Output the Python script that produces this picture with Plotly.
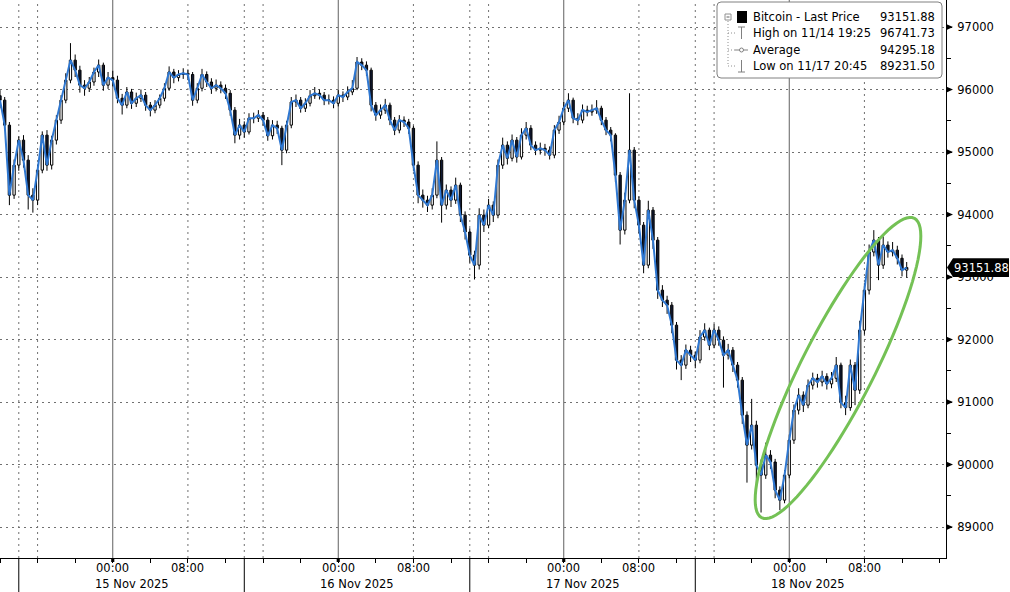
import plotly.graph_objects as go
import pandas as pd
import numpy as np

# 30-minute bars, Bitcoin last price
times = pd.date_range("2025-11-14 12:00", periods=194, freq="30min")

open_ = [
    95900, 95830, 95430, 94310, 94790, 95190, 94870, 94310, 94230, 94710,
    95270, 94790, 95190, 95510, 95830, 96150, 96470, 96310, 96070, 96020,
    96120, 96280, 96390, 96070, 96190, 96150, 95860, 95750, 95960, 95780,
    95860, 95910, 95750, 95670, 95750, 95860, 96020, 96280, 96190, 96240,
    96260, 96240, 95830, 96020, 96240, 96120, 96020, 96070, 96020, 95940,
    95670, 95270, 95430, 95320, 95540, 95540, 95590, 95510, 95260, 95430,
    95380, 95030, 95430, 95800, 95830, 95700, 95780, 95900, 95940, 95910,
    95830, 95830, 95780, 95910, 95880, 95960, 96020, 96440, 96390, 96310,
    95750, 95590, 95670, 95750, 95510, 95350, 95510, 95480, 95380, 94790,
    94310, 94230, 94150, 94310, 94870, 94150, 94390, 94230, 94470, 93990,
    93720, 93350, 93190, 93990, 93830, 94150, 93990, 94790, 95110, 94900,
    95190, 94920, 95270, 95380, 95110, 95030, 95060, 95030, 94950, 95350,
    95480, 95700, 95830, 95540, 95510, 95670, 95640, 95670, 95700, 95510,
    95350, 95270, 94630, 93750, 94230, 95030, 94230, 93830, 93190, 94070,
    93590, 92790, 92630, 92550, 92230, 91670, 91590, 91830, 91750, 91670,
    92040, 92150, 91910, 92150, 91990, 91750, 91830, 91590, 91350, 90790,
    90310, 90630, 89990, 89830, 90150, 90040, 89590, 89430, 89830, 90390,
    90870, 91110, 90950, 91270, 91380, 91320, 91410, 91290, 91380, 91590,
    90990, 90910, 91590, 91190, 92150, 92790, 93400, 93590, 93190, 93510,
    93400, 93430, 93300, 93110,
]

close = [
    95830, 95430, 94310, 94790, 95190, 94870, 94310, 94230, 94710, 95270,
    94790, 95190, 95510, 95830, 96150, 96470, 96310, 96070, 96020, 96120,
    96280, 96390, 96070, 96190, 96150, 95860, 95750, 95960, 95780, 95860,
    95910, 95750, 95670, 95750, 95860, 96020, 96280, 96190, 96240, 96260,
    96240, 95830, 96020, 96240, 96120, 96020, 96070, 96020, 95940, 95670,
    95270, 95430, 95320, 95540, 95540, 95590, 95510, 95260, 95430, 95380,
    95030, 95430, 95800, 95830, 95700, 95780, 95900, 95940, 95910, 95830,
    95830, 95780, 95910, 95880, 95960, 96020, 96440, 96390, 96310, 95750,
    95590, 95670, 95750, 95510, 95350, 95510, 95480, 95380, 94790, 94310,
    94230, 94150, 94310, 94870, 94150, 94390, 94230, 94470, 93990, 93720,
    93350, 93190, 93990, 93830, 94150, 93990, 94790, 95110, 94900, 95190,
    94920, 95270, 95380, 95110, 95030, 95060, 95030, 94950, 95350, 95480,
    95700, 95830, 95540, 95510, 95670, 95640, 95670, 95700, 95510, 95350,
    95270, 94630, 93750, 94230, 95030, 94230, 93830, 93190, 94070, 93590,
    92790, 92630, 92550, 92230, 91670, 91590, 91830, 91750, 91670, 92040,
    92150, 91910, 92150, 91990, 91750, 91830, 91590, 91350, 90790, 90310,
    90630, 89990, 89830, 90150, 90040, 89590, 89430, 89830, 90390, 90870,
    91110, 90950, 91270, 91380, 91320, 91410, 91290, 91380, 91590, 90990,
    90910, 91590, 91190, 92150, 92790, 93400, 93590, 93190, 93510, 93400,
    93430, 93300, 93110, 93151.88,
]

high = [
    95990, 95880, 95480, 94880, 95250, 95270, 94950, 94420, 94800, 95330,
    95350, 95260, 95590, 95910, 96260, 96741.73, 96560, 96380, 96150, 96200,
    96350, 96480, 96430, 96280, 96300, 96220, 95930, 96040, 96010, 95950,
    96000, 95960, 95800, 95830, 95920, 96100, 96370, 96330, 96310, 96340,
    96320, 96280, 96100, 96330, 96290, 96180, 96160, 96130, 96080, 95990,
    95720, 95530, 95490, 95620, 95630, 95670, 95640, 95560, 95510, 95500,
    95420, 95500, 95880, 95920, 95880, 95860, 95990, 96040, 96000, 95960,
    95920, 95890, 95990, 95970, 96050, 96150, 96520, 96500, 96450, 96350,
    95800, 95760, 95850, 95790, 95560, 95590, 95570, 95530, 95420, 94850,
    94400, 94300, 94420, 95170, 94920, 94480, 94450, 94590, 94510, 94050,
    93780, 93420, 94100, 94080, 94250, 94210, 94880, 95230, 95170, 95280,
    95240, 95380, 95480, 95430, 95170, 95150, 95130, 95090, 95430, 95580,
    95800, 95940, 95870, 95620, 95760, 95740, 95760, 95830, 95740, 95560,
    95400, 95300, 94680, 94350, 95940, 95080, 94290, 93880, 94220, 94120,
    93640, 92870, 92700, 92600, 92280, 91750, 91920, 91900, 91810, 92150,
    92260, 92190, 92250, 92210, 92050, 91930, 91880, 91640, 91400, 90850,
    91050, 90700, 90080, 90350, 90230, 90090, 89650, 89910, 90480, 90960,
    91220, 91170, 91360, 91470, 91450, 91500, 91460, 91480, 91720, 91630,
    91100, 91680, 91640, 92300, 92900, 93520, 93750, 93640, 93650, 93570,
    93560, 93500, 93360, 93240,
]

low = [
    95700, 95350, 94150, 94250, 94700, 94750, 94080, 94030, 94150, 94660,
    94700, 94720, 95120, 95450, 95780, 96100, 96200, 95950, 95900, 95960,
    96060, 96200, 95980, 96010, 96050, 95780, 95600, 95700, 95690, 95720,
    95800, 95660, 95570, 95620, 95700, 95810, 95980, 96100, 96130, 96170,
    96150, 95740, 95780, 95970, 96040, 95930, 95970, 95940, 95850, 95580,
    95140, 95200, 95230, 95280, 95460, 95480, 95420, 95180, 95200, 95290,
    94790, 94980, 95380, 95720, 95630, 95640, 95730, 95850, 95840, 95750,
    95760, 95700, 95730, 95800, 95830, 95910, 95990, 96310, 96220, 95650,
    95500, 95530, 95610, 95430, 95270, 95300, 95400, 95290, 94700, 94180,
    94110, 94040, 94080, 94260, 93870, 94080, 94120, 94170, 93880, 93600,
    93230, 92960, 93120, 93720, 93780, 93880, 93940, 94730, 94800, 94850,
    94830, 94880, 95200, 95030, 94950, 94960, 94940, 94880, 94900, 95290,
    95430, 95640, 95460, 95430, 95460, 95570, 95580, 95610, 95430, 95270,
    95170, 94520, 93520, 93680, 94180, 94100, 93700, 93060, 93140, 93450,
    92650, 92520, 92410, 92100, 91520, 91350, 91530, 91640, 91540, 91620,
    91980, 91830, 91860, 91900, 91230, 91680, 91480, 91230, 90650, 89710,
    90240, 89600, 89231.5, 89770, 89930, 89460, 89270, 89380, 89780, 90330,
    90800, 90840, 90900, 91200, 91230, 91250, 91200, 91220, 91320, 90900,
    90790, 90860, 90950, 91130, 92080, 92720, 93330, 92950, 93130, 93310,
    93330, 93200, 93010, 92990,
]

legend_labels = ["Bitcoin - Last Price", "High on 11/14 19:25", "Average", "Low on 11/17 20:45"]
legend_values = ["93151.88", "96741.73", "94295.18", "89231.50"]
last_price = 93151.88

day_dates = ["2025-11-15", "2025-11-16", "2025-11-17", "2025-11-18"]
day_labels = ["15 Nov 2025", "16 Nov 2025", "17 Nov 2025", "18 Nov 2025"]

FONT = "DejaVu Sans, Verdana, sans-serif"
FS = 11.5
PLOT_W, PLOT_H = 946, 558


def px(x):
    return x / PLOT_W


def py(y):
    return 1 - y / PLOT_H


fig = go.Figure()

fig.add_trace(go.Candlestick(
    x=times, open=open_, high=high, low=low, close=close,
    increasing=dict(line=dict(color="black", width=1), fillcolor="white"),
    decreasing=dict(line=dict(color="black", width=1), fillcolor="#111a33"),
    whiskerwidth=0, showlegend=False, hoverinfo="skip",
))
fig.add_trace(go.Scatter(
    x=times, y=close, mode="lines",
    line=dict(color="#2f78d2", width=2),
    showlegend=False, hoverinfo="skip",
))

shapes = []

# vertical grid lines
for d in day_dates:
    t0 = pd.Timestamp(d)
    shapes.append(dict(type="line", xref="x", yref="paper", x0=t0, x1=t0, y0=0, y1=1,
                       line=dict(color="#606060", width=1), layer="below"))
    t8 = t0 + pd.Timedelta(hours=8)
    shapes.append(dict(type="line", xref="x", yref="paper", x0=t8, x1=t8, y0=0, y1=1,
                       line=dict(color="#707070", width=1, dash="2px,4px"), layer="below"))
for d in ["2025-11-14", "2025-11-15", "2025-11-16", "2025-11-17"]:
    t0 = pd.Timestamp(d)
    for h in (14, 16):
        th = t0 + pd.Timedelta(hours=h)
        shapes.append(dict(type="line", xref="x", yref="paper", x0=th, x1=th, y0=0, y1=1,
                           line=dict(color="#707070", width=1, dash="2px,4px"), layer="below"))
    # day separators below the axis
    ts = t0 + pd.Timedelta(hours=14)
    shapes.append(dict(type="line", xref="x", yref="paper", x0=ts, x1=ts, y0=0, y1=py(592),
                       line=dict(color="black", width=1)))

# little square marks at 00:00 on the time axis
for d in day_dates:
    t0 = pd.Timestamp(d)
    shapes.append(dict(type="rect", xref="x", yref="paper",
                       x0=t0 - pd.Timedelta(minutes=10), x1=t0 + pd.Timedelta(minutes=10),
                       y0=py(558), y1=py(562), fillcolor="black", line=dict(width=0)))

# arrow heads at the major price ticks
for v in range(89000, 97001, 1000):
    shapes.append(dict(type="path", xref="paper", yref="y",
                       path=f"M {px(946)},{v - 50} L {px(953)},{v} L {px(946)},{v + 50} Z",
                       fillcolor="black", line=dict(width=0)))

# last price tag
shapes.append(dict(type="path", xref="paper", yref="y",
                   path=(f"M {px(947)},{last_price} L {px(953)},{last_price + 150} "
                         f"L {px(1009)},{last_price + 150} L {px(1009)},{last_price - 150} "
                         f"L {px(953)},{last_price - 150} Z"),
                   fillcolor="black", line=dict(width=0)))

# green highlight ellipse
t = np.linspace(0, 2 * np.pi, 97)
cx, cy, a, b = 838, 368, 168, 36
ux, uy = 0.4545, -0.891
vx, vy = 0.891, 0.4545
ex = cx + a * np.cos(t) * ux + b * np.sin(t) * vx
ey = cy + a * np.cos(t) * uy + b * np.sin(t) * vy
epath = "M " + " L ".join(f"{px(x):.5f},{py(y):.5f}" for x, y in zip(ex, ey)) + " Z"
shapes.append(dict(type="path", xref="paper", yref="paper", path=epath,
                   line=dict(color="#74c155", width=3)))

# legend box
lx0, lx1, ly0, ly1, r = 717, 942, 2, 78, 4
shapes.append(dict(type="path", xref="paper", yref="paper",
                   path=(f"M {px(lx0 + r)},{py(ly0)} L {px(lx1 - r)},{py(ly0)} "
                         f"Q {px(lx1)},{py(ly0)} {px(lx1)},{py(ly0 + r)} "
                         f"L {px(lx1)},{py(ly1 - r)} Q {px(lx1)},{py(ly1)} {px(lx1 - r)},{py(ly1)} "
                         f"L {px(lx0 + r)},{py(ly1)} Q {px(lx0)},{py(ly1)} {px(lx0)},{py(ly1 - r)} "
                         f"L {px(lx0)},{py(ly0 + r)} Q {px(lx0)},{py(ly0)} {px(lx0 + r)},{py(ly0)} Z"),
                   fillcolor="white", line=dict(color="#808080", width=1)))

rows_y = [17, 33, 50, 66]
# tree lines
shapes.append(dict(type="line", xref="paper", yref="paper", x0=px(728), x1=px(728),
                   y0=py(21), y1=py(66), line=dict(color="#909090", width=1, dash="1px,2px")))
for yy in rows_y[1:]:
    shapes.append(dict(type="line", xref="paper", yref="paper", x0=px(728), x1=px(735),
                       y0=py(yy), y1=py(yy), line=dict(color="#909090", width=1, dash="1px,2px")))
shapes.append(dict(type="rect", xref="paper", yref="paper", x0=px(725), x1=px(731),
                   y0=py(14), y1=py(20), line=dict(color="#909090", width=1), fillcolor="white"))
shapes.append(dict(type="line", xref="paper", yref="paper", x0=px(726.5), x1=px(729.5),
                   y0=py(17), y1=py(17), line=dict(color="#606060", width=1)))
# icons
shapes.append(dict(type="rect", xref="paper", yref="paper", x0=px(737), x1=px(747),
                   y0=py(11), y1=py(23), fillcolor="black", line=dict(width=0)))
shapes.append(dict(type="line", xref="paper", yref="paper", x0=px(738), x1=px(745),
                   y0=py(27), y1=py(27), line=dict(color="#808080", width=1)))
shapes.append(dict(type="line", xref="paper", yref="paper", x0=px(741.5), x1=px(741.5),
                   y0=py(27), y1=py(39), line=dict(color="#808080", width=1)))
shapes.append(dict(type="line", xref="paper", yref="paper", x0=px(735), x1=px(748),
                   y0=py(50), y1=py(50), line=dict(color="#808080", width=1)))
shapes.append(dict(type="circle", xref="paper", yref="paper", x0=px(739.5), x1=px(743.5),
                   y0=py(48), y1=py(52), line=dict(color="#808080", width=1), fillcolor="white"))
shapes.append(dict(type="line", xref="paper", yref="paper", x0=px(741.5), x1=px(741.5),
                   y0=py(60), y1=py(72), line=dict(color="#808080", width=1)))
shapes.append(dict(type="line", xref="paper", yref="paper", x0=px(738), x1=px(745),
                   y0=py(72), y1=py(72), line=dict(color="#808080", width=1)))

annotations = []
for lab, val, yy in zip(legend_labels, legend_values, rows_y):
    annotations.append(dict(xref="paper", yref="paper", x=px(751), y=py(yy), text=lab,
                            xanchor="left", yanchor="middle", showarrow=False,
                            font=dict(family=FONT, size=FS, color="black")))
    annotations.append(dict(xref="paper", yref="paper", x=px(937), y=py(yy), text=val,
                            xanchor="right", yanchor="middle", showarrow=False,
                            font=dict(family=FONT, size=FS, color="black")))

annotations.append(dict(xref="paper", yref="y", x=px(981), y=last_price, text=f"{last_price:.2f}",
                        xanchor="center", yanchor="middle", showarrow=False,
                        font=dict(family=FONT, size=FS, color="white")))

for d, lab in zip(day_dates, day_labels):
    t0 = pd.Timestamp(d)
    for h, txt in ((0, "00:00"), (8, "08:00")):
        annotations.append(dict(xref="x", yref="paper", x=t0 + pd.Timedelta(hours=h), y=py(568),
                                text=txt, xanchor="center", yanchor="middle", showarrow=False,
                                font=dict(family=FONT, size=FS, color="black")))
    annotations.append(dict(xref="x", yref="paper", x=t0 + pd.Timedelta(hours=2), y=py(584),
                            text=lab, xanchor="center", yanchor="middle", showarrow=False,
                            font=dict(family=FONT, size=FS, color="black")))

fig.update_layout(
    width=1010, height=592,
    margin=dict(l=0, r=64, t=0, b=34, pad=0),
    paper_bgcolor="white", plot_bgcolor="white",
    showlegend=False,
    font=dict(family=FONT, size=FS, color="black"),
    shapes=shapes,
    annotations=annotations,
    xaxis=dict(
        type="date",
        range=["2025-11-14 12:00", "2025-11-18 16:41"],
        showgrid=False, zeroline=False,
        showline=True, linecolor="black", linewidth=1,
        ticks="outside", ticklen=4, tickcolor="black",
        tick0="2025-11-14 00:00", dtick=4 * 3600 * 1000,
        showticklabels=False,
        rangeslider=dict(visible=False),
    ),
    yaxis=dict(
        side="right",
        range=[88504, 97432],
        tick0=89000, dtick=1000, tickformat="d",
        showgrid=True, gridcolor="#707070", gridwidth=1, griddash="2px,4px",
        zeroline=False,
        showline=True, linecolor="black", linewidth=1,
        ticks="outside", ticklen=5, tickcolor="black",
        ticklabelstandoff=3,
        tickfont=dict(family=FONT, size=FS, color="black"),
        minor=dict(tick0=88500, dtick=500, ticks="outside", ticklen=4, tickcolor="black", showgrid=False),
    ),
)

fig.write_html("out.html", config={"displayModeBar": False},
               post_script="document.body.style.margin='0';document.body.style.overflow='hidden';")
